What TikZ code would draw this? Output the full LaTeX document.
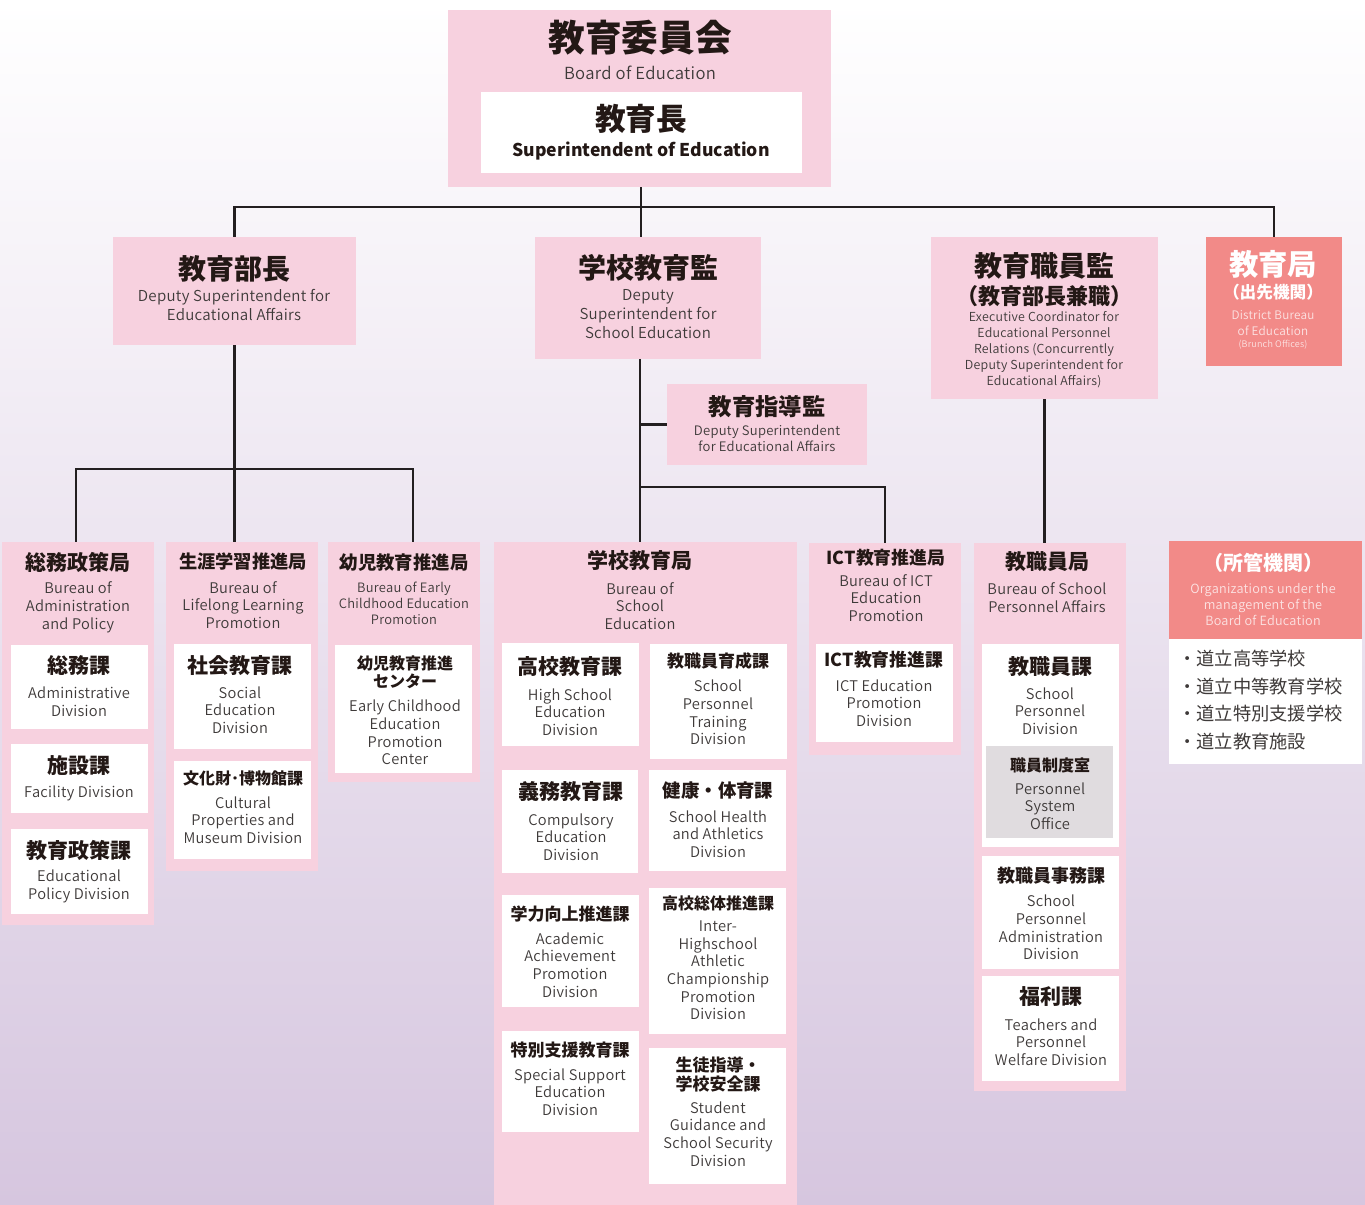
\documentclass[tikz,border=0pt]{standalone}
\usepackage{fontspec}
\setmainfont{Noto Sans CJK JP}
\IfFontExistsTF{Noto Sans CJK JP DemiLight}
  {\newfontfamily\enf{Noto Sans CJK JP DemiLight}[LetterSpace=2]}
  {\newfontfamily\enf{Noto Sans CJK JP}[LetterSpace=2]}
\usetikzlibrary{fit}
\definecolor{pk}{HTML}{F7D1DF}
\definecolor{sal}{HTML}{F28A88}
\definecolor{salt}{HTML}{FCE3E3}
\definecolor{gr}{HTML}{E0DCDF}
\definecolor{jtc}{HTML}{231815}
\definecolor{etc}{HTML}{3E3A39}
\definecolor{lc}{HTML}{231F20}
\definecolor{bgb}{HTML}{D6C6DF}
\newcommand\fs[2]{\fontsize{#1}{#2}\selectfont}
\newcommand\bx[6]{\node[#1, fit={(#3,#4) (#5,#6)}] (#2) {};}
\tikzset{
  pinkbox/.style={fill=pk, draw=none, inner sep=0pt},
  whitebox/.style={fill=white, draw=none, inner sep=0pt},
  graybox/.style={fill=gr, draw=none, inner sep=0pt},
  salbox/.style={fill=sal, draw=none, inner sep=0pt},
  jt/.style={text=jtc, align=center, inner sep=0pt},
  en/.style={text=etc, align=center, inner sep=0pt},
  conn/.style={draw=lc, line width=1.8pt},
  big/.style={font=\fs{21}{24}\bfseries},
  mid/.style={font=\fs{15.75}{18}\bfseries},
  sml/.style={font=\fs{12.75}{15}\bfseries},
  ent/.style={font=\enf\fs{11}{13.2}},
}
\begin{document}
\begin{tikzpicture}[x=0.75pt,y=-0.75pt]
\shade[top color=white, bottom color=bgb] (0,0) rectangle (1365,1205);
\useasboundingbox (0,0) rectangle (1365,1205);

% ---------- top ----------
\bx{pinkbox}{board}{448}{10}{831}{187}
\bx{whitebox}{supt}{481}{92}{802}{173}
\node[jt,font=\fs{27.5}{30}\bfseries] (board-t) at (640,38) {教育委員会};
\node[en,font=\enf\fs{12.5}{15}] (board-e) at (640,73) {Board of Education};
\node[jt,font=\fs{23}{26}\bfseries] (supt-t) at (641,119) {教育長};
\node[jt,font=\fs{13.2}{16}\bfseries] (supt-e) at (641,151) {Superintendent of Education};

% ---------- second level ----------
\bx{pinkbox}{bucho}{113}{237}{356}{345}
\node[jt,big] (bucho-t) at (234,269) {教育部長};
\node[en,font=\enf\fs{11.3}{14.2}] (bucho-e) at (234,305) {Deputy Superintendent for\\Educational Affairs};

\bx{pinkbox}{kanmi}{535}{237}{761}{359}
\node[jt,big] (kanmi-t) at (648,268) {学校教育監};
\node[en,font=\enf\fs{11.3}{14.5}] (kanmi-e) at (648,314) {Deputy\\Superintendent for\\School Education};

\bx{pinkbox}{shokuin}{931}{237}{1158}{399}
\node[jt,big] (shokuin-t) at (1044,266) {教育職員監};
\node[jt,font=\fs{16.5}{18}\bfseries] (shokuin-s) at (1044,296) {（教育部長兼職）};
\node[en,font=\enf\fs{9.3}{12}] (shokuin-e) at (1044,350) {Executive Coordinator for\\Educational Personnel\\Relations (Concurrently\\Deputy Superintendent for\\Educational Affairs)};

\bx{salbox}{kyoku}{1206}{237}{1342}{366}
\node[jt,text=white,font=\fs{22}{24}\bfseries] (kyoku-t) at (1273,264) {教育局};
\node[jt,text=white,font=\fs{12.5}{14}\bfseries] (kyoku-s) at (1273,292) {（出先機関）};
\node[en,text=salt,font=\enf\fs{8.8}{12}] (kyoku-e) at (1273,323) {District Bureau\\of Education};
\node[en,text=salt,font=\enf\fs{6.8}{8}] (kyoku-b) at (1273,345) {(Brunch Offices)};

\bx{pinkbox}{shidou}{667}{384}{867}{465}
\node[jt,font=\fs{17.5}{20}\bfseries] (shidou-t) at (767,407) {教育指導監};
\node[en,font=\enf\fs{9.8}{12}] (shidou-e) at (767,438) {Deputy Superintendent\\for Educational Affairs};

% ---------- bureau 1 ----------
\bx{pinkbox}{b1}{2}{542}{154}{925}
\node[jt,mid] (b1-t) at (78,562) {総務政策局};
\node[en,font=\enf\fs{11}{13.5}] (b1-e) at (78,607) {Bureau of\\Administration\\and Policy};
\bx{whitebox}{d11}{11}{645}{148}{729}
\node[jt,mid] (d11-t) at (79,666) {総務課};
\node[en,font=\enf\fs{11}{13.5}] (d11-e) at (79,702) {Administrative\\Division};
\bx{whitebox}{d12}{11}{744}{148}{813}
\node[jt,mid] (d12-t) at (79,766) {施設課};
\node[en,ent] (d12-e) at (79,793) {Facility Division};
\bx{whitebox}{d13}{11}{829}{148}{914}
\node[jt,mid] (d13-t) at (79,850) {教育政策課};
\node[en,font=\enf\fs{11}{13.5}] (d13-e) at (79,886) {Educational\\Policy Division};

% ---------- bureau 2 ----------
\bx{pinkbox}{b2}{166}{542}{318}{871}
\node[jt,font=\fs{13.7}{16}\bfseries] (b2-t) at (243,562) {生涯学習推進局};
\node[en,ent] (b2-e) at (243,605) {Bureau of\\Lifelong Learning\\Promotion};
\bx{whitebox}{d21}{174}{644}{311}{749}
\node[jt,mid] (d21-t) at (240,666) {社会教育課};
\node[en,ent] (d21-e) at (240,710) {Social\\Education\\Division};
\bx{whitebox}{d22}{174}{761}{311}{859}
\node[jt,font=\fs{12}{14}\bfseries] (d22-t) at (243,778) {文化財･博物館課};
\node[en,ent] (d22-e) at (243,820) {Cultural\\Properties and\\Museum Division};

% ---------- bureau 3 ----------
\bx{pinkbox}{b3}{328}{542}{480}{782}
\node[jt,font=\fs{13.8}{16}\bfseries] (b3-t) at (404,563) {幼児教育推進局};
\node[en,font=\enf\fs{9.7}{12}] (b3-e) at (404,603) {Bureau of Early\\Childhood Education\\Promotion};
\bx{whitebox}{d31}{335}{645}{472}{773}
\node[jt,font=\fs{12}{13.5}\bfseries] (d31-t) at (405,672) {幼児教育推進\\センター};
\node[en,ent] (d31-e) at (405,732.5) {Early Childhood\\Education\\Promotion\\Center};

% ---------- bureau 4 ----------
\bx{pinkbox}{b4}{494}{542}{797}{1205}
\node[jt,mid] (b4-t) at (640,561) {学校教育局};
\node[en,ent] (b4-e) at (640,606) {Bureau of\\School\\Education};
\bx{whitebox}{d41}{502}{643}{639}{746}
\node[jt,mid] (d41-t) at (570,667) {高校教育課};
\node[en,ent] (d41-e) at (570,712) {High School\\Education\\Division};
\bx{whitebox}{d42}{650}{644}{787}{759}
\node[jt,sml] (d42-t) at (718,661) {教職員育成課};
\node[en,ent] (d42-e) at (718,712.5) {School\\Personnel\\Training\\Division};
\bx{whitebox}{d43}{502}{770}{638}{873}
\node[jt,mid] (d43-t) at (571,792) {義務教育課};
\node[en,ent] (d43-e) at (571,837) {Compulsory\\Education\\Division};
\bx{whitebox}{d44}{649}{770}{786}{871}
\node[jt,font=\fs{13.8}{16}\bfseries] (d44-t) at (718,791) {健康・体育課};
\node[en,ent] (d44-e) at (718,834) {School Health\\and Athletics\\Division};
\bx{whitebox}{d45}{502}{895}{639}{1007}
\node[jt,sml] (d45-t) at (570,914) {学力向上推進課};
\node[en,ent] (d45-e) at (570,965) {Academic\\Achievement\\Promotion\\Division};
\bx{whitebox}{d46}{649}{888}{786}{1034}
\node[jt,font=\fs{12}{14}\bfseries] (d46-t) at (718,903) {高校総体推進課};
\node[en,ent] (d46-e) at (718,970.5) {Inter-\\Highschool\\Athletic\\Championship\\Promotion\\Division};
\bx{whitebox}{d47}{502}{1031}{639}{1132}
\node[jt,sml] (d47-t) at (570,1050) {特別支援教育課};
\node[en,ent] (d47-e) at (570,1092) {Special Support\\Education\\Division};
\bx{whitebox}{d48}{649}{1048}{786}{1184}
\node[jt,font=\fs{12.75}{14.3}\bfseries] (d48-t) at (718,1074.5) {生徒指導・\\学校安全課};
\node[en,ent] (d48-e) at (718,1134) {Student\\Guidance and\\School Security\\Division};

% ---------- bureau 5 ----------
\bx{pinkbox}{b5}{809}{543}{961}{755}
\node[jt,font=\fs{13.4}{16}\bfseries] (b5-t) at (886,558) {ICT教育推進局};
\node[en,ent] (b5-e) at (886,598) {Bureau of ICT\\Education\\Promotion};
\bx{whitebox}{d51}{816}{644}{953}{742}
\node[jt,font=\fs{13.4}{16}\bfseries] (d51-t) at (884,660) {ICT教育推進課};
\node[en,ent] (d51-e) at (884,703) {ICT Education\\Promotion\\Division};

% ---------- bureau 6 ----------
\bx{pinkbox}{b6}{974}{543}{1126}{1091}
\node[jt,mid] (b6-t) at (1047,562) {教職員局};
\node[en,font=\enf\fs{11}{13.5}] (b6-e) at (1047,598) {Bureau of School\\Personnel Affairs};
\bx{whitebox}{d61}{982}{644}{1119}{847}
\node[jt,mid] (d61-t) at (1050,667) {教職員課};
\node[en,ent] (d61-e) at (1050,711) {School\\Personnel\\Division};
\bx{graybox}{g61}{986}{746}{1113}{838}
\node[jt,font=\fs{12}{14}\bfseries] (g61-t) at (1050,765) {職員制度室};
\node[en,ent] (g61-e) at (1050,806) {Personnel\\System\\Office};
\bx{whitebox}{d62}{982}{856}{1119}{969}
\node[jt,font=\fs{13.5}{16}\bfseries] (d62-t) at (1051,876) {教職員事務課};
\node[en,ent] (d62-e) at (1051,927.5) {School\\Personnel\\Administration\\Division};
\bx{whitebox}{d63}{982}{976}{1119}{1081}
\node[jt,mid] (d63-t) at (1051,997) {福利課};
\node[en,ent] (d63-e) at (1051,1042) {Teachers and\\Personnel\\Welfare Division};

% ---------- organizations ----------
\bx{salbox}{sho}{1169}{541}{1362}{639}
\bx{whitebox}{shol}{1169}{639}{1362}{764}
\node[jt,text=white,font=\fs{15}{17}\bfseries] (sho-t) at (1263,563) {（所管機関）};
\node[en,text=salt,font=\enf\fs{9.5}{12}] (sho-e) at (1263,605) {Organizations under the\\management of the\\Board of Education};
\node[en,anchor=west,font=\fs{13.7}{16}] (l1) at (1178,659) {・道立高等学校};
\node[en,anchor=west,font=\fs{13.7}{16}] (l2) at (1178,687) {・道立中等教育学校};
\node[en,anchor=west,font=\fs{13.7}{16}] (l3) at (1178,714) {・道立特別支援学校};
\node[en,anchor=west,font=\fs{13.7}{16}] (l4) at (1178,742) {・道立教育施設};

% ---------- connectors ----------
\coordinate (hbar) at (641,207);
\coordinate (kx) at (640,359);
\coordinate (lb1) at (76,469);
\coordinate (lb3) at (413,469);
\coordinate (ictbar) at (640,487);
\draw[conn] (board.south -| hbar) -- (hbar |- kanmi.north);
\draw[conn] (bucho.north) -- (bucho.north |- hbar) -- (kyoku.north |- hbar) -- (kyoku.north);
\draw[conn] (bucho.south) -- (bucho.south |- b2.north);
\draw[conn] (b1.north -| lb1) -- (lb1) -- (lb3) -- (b3.north -| lb3);
\draw[conn] (kx) -- (kx |- b4.north);
\draw[conn] (kx |- shidou.west) -- (shidou.west);
\draw[conn] (ictbar) -| (b5.north);
\draw[conn] (shokuin.south) -- (shokuin.south |- b6.north);
\end{tikzpicture}
\end{document}
